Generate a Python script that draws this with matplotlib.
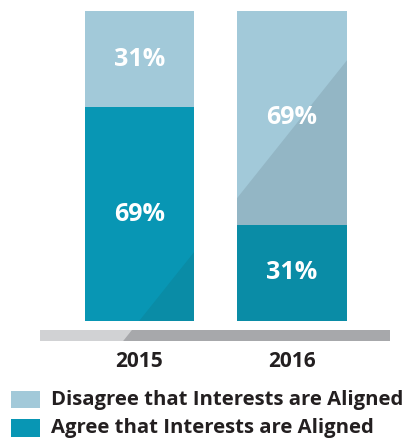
import matplotlib
matplotlib.use("Agg")
import matplotlib.pyplot as plt
from matplotlib.patches import Polygon, Rectangle

# data
years = ["2015", "2016"]
agree = [69, 31]
disagree = [31, 69]
legend_labels = ["Disagree that Interests are Aligned", "Agree that Interests are Aligned"]

C_DIS = "#a2c9d9"
C_DIS_DK = "#93b6c5"
C_AGR = "#0896b4"
C_AGR_DK = "#0a8ca6"
C_AX = "#d1d2d4"
C_AX_DK = "#a7a8ab"
C_TXT = "#231f20"

plt.rcParams["font.family"] = ["Open Sans", "DejaVu Sans"]

fig = plt.figure(figsize=(4.11, 4.41), dpi=100)
ax = fig.add_axes([0, 0, 1, 1])
ax.set_xlim(-0.915, 1.780)
ax.set_ylim(-38.7, 103.55)
ax.axis("off")

x = range(len(years))
width = 0.72

# diagonal shading region (below the line)
slope = 61.7
x0 = -0.003
shade = Polygon([(-2, slope * (-2 - x0)), (3, slope * (3 - x0)), (3, -60), (-2, -60)],
                closed=True, transform=ax.transData, facecolor="none", edgecolor="none")
ax.add_patch(shade)

for colors in [(C_AGR, C_DIS), (C_AGR_DK, C_DIS_DK)]:
    b1 = ax.bar(x, agree, width, color=colors[0], linewidth=0)
    b2 = ax.bar(x, disagree, width, bottom=agree, color=colors[1], linewidth=0)
    if colors[0] == C_AGR_DK:
        for p in list(b1) + list(b2):
            p.set_clip_path(shade)

# axis strip
ax.add_patch(Rectangle((-0.652, -6.45), 2.295, 3.55, facecolor=C_AX, linewidth=0))
r = Rectangle((-0.652, -6.45), 2.295, 3.55, facecolor=C_AX_DK, linewidth=0)
ax.add_patch(r)
r.set_clip_path(shade)

for i in x:
    ax.text(i, agree[i] / 2, f"{agree[i]}%", ha="center", va="center",
            color="white", fontsize=18, fontweight="bold")
    ax.text(i, agree[i] + disagree[i] / 2, f"{disagree[i]}%", ha="center", va="center",
            color="white", fontsize=18, fontweight="bold")
    ax.text(i, -13, years[i], ha="center", va="center", color=C_TXT,
            fontsize=15, fontweight="bold")

# legend
for k, (lab, col) in enumerate(zip(legend_labels, [C_DIS, C_AGR])):
    yc = 0.093 - k * 0.064
    fig.patches.append(Rectangle((11 / 411, yc - 0.019), 29 / 411, 0.039,
                                 transform=fig.transFigure, facecolor=col, linewidth=0))
    fig.text(51 / 411, yc, lab, ha="left", va="center", color=C_TXT,
             fontsize=14.6, fontweight="bold")

fig.savefig("out.png", dpi=100)
